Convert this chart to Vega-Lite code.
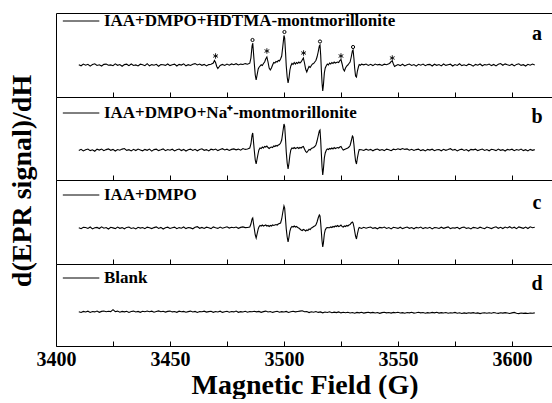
{
"$schema":"https://vega.github.io/schema/vega-lite/v6.json",
"background":"white",
"padding":{"left":8,"top":12,"right":0,"bottom":0},
"bounds":"flush",
"spacing":0,
"config":{"view":{"stroke":null},"font":"Liberation Serif","text":{"font":"Liberation Serif","color":"black"}},
"datasets":{
"a":[{"x":3410,"y":0.3},{"x":3411,"y":-0.8},{"x":3412,"y":0.9},{"x":3413,"y":-0.2},{"x":3414,"y":0.7},{"x":3415,"y":-1.1},{"x":3416,"y":0.4},{"x":3417,"y":1.2},{"x":3418,"y":-0.5},{"x":3419,"y":0.2},{"x":3420,"y":-1.0},{"x":3421,"y":0.6},{"x":3422,"y":0.9},{"x":3423,"y":-0.3},{"x":3424,"y":0.1},{"x":3425,"y":-0.7},{"x":3426,"y":1.1},{"x":3427,"y":-0.3},{"x":3428,"y":0.5},{"x":3429,"y":-1.2},{"x":3430,"y":0.4},{"x":3431,"y":0.8},{"x":3432,"y":-0.6},{"x":3433,"y":1.0},{"x":3434,"y":-0.5},{"x":3435,"y":0.1},{"x":3436,"y":-0.9},{"x":3437,"y":0.8},{"x":3438,"y":0.2},{"x":3439,"y":-0.7},{"x":3440,"y":1.3},{"x":3441,"y":-0.8},{"x":3442,"y":0.4},{"x":3443,"y":-0.2},{"x":3444,"y":0.7},{"x":3445,"y":-1.2},{"x":3446,"y":0.5},{"x":3447,"y":0.3},{"x":3448,"y":-0.4},{"x":3449,"y":1.0},{"x":3450,"y":-0.6},{"x":3451,"y":0.2},{"x":3452,"y":0.9},{"x":3453,"y":-1.0},{"x":3454,"y":0.6},{"x":3455,"y":-0.1},{"x":3456,"y":1.2},{"x":3457,"y":-0.8},{"x":3458,"y":0.3},{"x":3459,"y":-0.5},{"x":3460,"y":0.8},{"x":3461,"y":1.4},{"x":3462,"y":0.1},{"x":3463,"y":1.0},{"x":3464,"y":-0.3},{"x":3465,"y":0.6},{"x":3466,"y":-0.9},{"x":3467,"y":0.4},{"x":3468,"y":0.8},{"x":3469,"y":2},{"x":3469.5,"y":4.5},{"x":3470,"y":2.5},{"x":3470.5,"y":-1.5},{"x":3471,"y":-3.5},{"x":3471.5,"y":-2},{"x":3472,"y":-0.5},{"x":3473,"y":0.6},{"x":3474,"y":-0.4},{"x":3475,"y":0.9},{"x":3476,"y":-0.2},{"x":3477,"y":1.1},{"x":3478,"y":0.3},{"x":3479,"y":1.3},{"x":3480,"y":0.1},{"x":3481,"y":0.9},{"x":3482,"y":0.5},{"x":3483,"y":1.4},{"x":3484,"y":0.8},{"x":3485,"y":1.8},{"x":3485.5,"y":7},{"x":3486,"y":19},{"x":3486.3,"y":22},{"x":3486.6,"y":13},{"x":3487,"y":1},{"x":3487.4,"y":-10},{"x":3487.8,"y":-15},{"x":3488.2,"y":-10},{"x":3488.7,"y":-4},{"x":3489,"y":-2.5},{"x":3489.5,"y":-1},{"x":3490,"y":0.2},{"x":3490.5,"y":-0.5},{"x":3491,"y":1.5},{"x":3491.5,"y":3},{"x":3492,"y":6},{"x":3492.5,"y":8},{"x":3493,"y":3},{"x":3493.5,"y":-3},{"x":3494,"y":-5},{"x":3494.5,"y":-3},{"x":3495,"y":0},{"x":3495.5,"y":2.5},{"x":3496,"y":2},{"x":3496.5,"y":3.5},{"x":3497,"y":3},{"x":3497.5,"y":4.5},{"x":3498,"y":4},{"x":3498.5,"y":6},{"x":3499,"y":9},{"x":3499.5,"y":19},{"x":3500,"y":29.5},{"x":3500.3,"y":27},{"x":3500.7,"y":12},{"x":3501,"y":-1},{"x":3501.4,"y":-12},{"x":3501.8,"y":-18},{"x":3502.2,"y":-13},{"x":3502.6,"y":-5},{"x":3503,"y":-1},{"x":3503.5,"y":1.5},{"x":3504,"y":0.5},{"x":3504.5,"y":2.5},{"x":3505,"y":1},{"x":3505.5,"y":2.5},{"x":3506,"y":1.5},{"x":3506.5,"y":3},{"x":3507,"y":2},{"x":3507.5,"y":3},{"x":3508,"y":5},{"x":3508.5,"y":7},{"x":3509,"y":2},{"x":3509.5,"y":-4},{"x":3510,"y":-7},{"x":3510.5,"y":-4},{"x":3511,"y":-1.5},{"x":3511.5,"y":-2.5},{"x":3512,"y":-0.5},{"x":3512.5,"y":1},{"x":3513,"y":1.5},{"x":3513.5,"y":3},{"x":3514,"y":4.5},{"x":3514.5,"y":8},{"x":3515,"y":13},{"x":3515.5,"y":19},{"x":3515.8,"y":20},{"x":3516.1,"y":10},{"x":3516.4,"y":-5},{"x":3516.7,"y":-18},{"x":3517,"y":-26},{"x":3517.3,"y":-20},{"x":3517.7,"y":-8},{"x":3518.1,"y":-3},{"x":3518.6,"y":-0.5},{"x":3519,"y":1},{"x":3519.5,"y":0},{"x":3520,"y":2},{"x":3520.5,"y":1},{"x":3521,"y":2.5},{"x":3521.5,"y":1.5},{"x":3522,"y":3},{"x":3522.5,"y":2},{"x":3523,"y":2.5},{"x":3523.5,"y":3},{"x":3524,"y":2.5},{"x":3524.5,"y":4.5},{"x":3525,"y":5.5},{"x":3525.5,"y":1},{"x":3526,"y":-4},{"x":3526.5,"y":-6},{"x":3527,"y":-3},{"x":3527.5,"y":-1},{"x":3528,"y":0},{"x":3528.5,"y":1.5},{"x":3529,"y":3},{"x":3529.5,"y":8},{"x":3530,"y":14},{"x":3530.3,"y":15},{"x":3530.7,"y":6},{"x":3531,"y":-3},{"x":3531.4,"y":-11},{"x":3531.8,"y":-12},{"x":3532.2,"y":-6},{"x":3532.7,"y":-1.5},{"x":3533,"y":0.5},{"x":3533.5,"y":-0.3},{"x":3534,"y":0.9},{"x":3535,"y":0.2},{"x":3536,"y":1.0},{"x":3537,"y":-0.4},{"x":3538,"y":0.7},{"x":3539,"y":-0.6},{"x":3540,"y":0.9},{"x":3541,"y":0.1},{"x":3542,"y":0.6},{"x":3543,"y":-0.5},{"x":3544,"y":0.8},{"x":3545,"y":0.3},{"x":3546,"y":1.2},{"x":3546.5,"y":2},{"x":3547,"y":3.5},{"x":3547.5,"y":4},{"x":3548,"y":1},{"x":3548.5,"y":-1.5},{"x":3549,"y":-0.8},{"x":3550,"y":0.5},{"x":3551,"y":-0.6},{"x":3552,"y":0.8},{"x":3553,"y":-0.9},{"x":3554,"y":0.3},{"x":3555,"y":1.0},{"x":3556,"y":-0.5},{"x":3557,"y":0.4},{"x":3558,"y":-1.1},{"x":3559,"y":0.7},{"x":3560,"y":-0.2},{"x":3561,"y":0.9},{"x":3562,"y":-0.7},{"x":3563,"y":0.4},{"x":3564,"y":0.6},{"x":3565,"y":-1.0},{"x":3566,"y":0.8},{"x":3567,"y":-0.3},{"x":3568,"y":0.5},{"x":3569,"y":-0.9},{"x":3570,"y":1.0},{"x":3571,"y":-0.4},{"x":3572,"y":0.3},{"x":3573,"y":0.8},{"x":3574,"y":-1.0},{"x":3575,"y":0.5},{"x":3576,"y":-0.4},{"x":3577,"y":1.2},{"x":3578,"y":-0.6},{"x":3579,"y":0.2},{"x":3580,"y":-0.7},{"x":3581,"y":0.8},{"x":3582,"y":0.3},{"x":3583,"y":-1.1},{"x":3584,"y":0.6},{"x":3585,"y":-0.2},{"x":3586,"y":1.0},{"x":3587,"y":-0.8},{"x":3588,"y":0.4},{"x":3589,"y":0.0},{"x":3590,"y":0.9},{"x":3591,"y":-0.6},{"x":3592,"y":0.5},{"x":3593,"y":-0.9},{"x":3594,"y":0.7},{"x":3595,"y":1.5},{"x":3596,"y":-0.3},{"x":3597,"y":1.1},{"x":3598,"y":0.2},{"x":3599,"y":-0.5},{"x":3600,"y":0.8},{"x":3601,"y":-0.9},{"x":3602,"y":0.6},{"x":3603,"y":1.2},{"x":3604,"y":-0.4},{"x":3605,"y":0.3},{"x":3606,"y":-1.0},{"x":3607,"y":0.7},{"x":3608,"y":-0.2},{"x":3609,"y":0.9},{"x":3610,"y":0.1}],
"b":[{"x":3410,"y":-0.4},{"x":3411,"y":0.7},{"x":3412,"y":-0.9},{"x":3413,"y":0.3},{"x":3414,"y":1.0},{"x":3415,"y":-0.6},{"x":3416,"y":0.2},{"x":3417,"y":-1.2},{"x":3418,"y":0.8},{"x":3419,"y":-0.1},{"x":3420,"y":0.9},{"x":3421,"y":-0.7},{"x":3422,"y":0.4},{"x":3423,"y":1.1},{"x":3424,"y":-0.3},{"x":3425,"y":0.6},{"x":3426,"y":-1.0},{"x":3427,"y":0.5},{"x":3428,"y":-0.2},{"x":3429,"y":0.9},{"x":3430,"y":1.5},{"x":3431,"y":-0.4},{"x":3432,"y":0.3},{"x":3433,"y":-0.9},{"x":3434,"y":0.7},{"x":3435,"y":-0.5},{"x":3436,"y":1.0},{"x":3437,"y":0.1},{"x":3438,"y":-0.8},{"x":3439,"y":0.6},{"x":3440,"y":-0.3},{"x":3441,"y":0.9},{"x":3442,"y":-1.1},{"x":3443,"y":0.4},{"x":3444,"y":0.8},{"x":3445,"y":-0.6},{"x":3446,"y":0.2},{"x":3447,"y":1.1},{"x":3448,"y":-0.7},{"x":3449,"y":0.5},{"x":3450,"y":-0.2},{"x":3451,"y":0.8},{"x":3452,"y":-0.9},{"x":3453,"y":0.3},{"x":3454,"y":1.0},{"x":3455,"y":-0.5},{"x":3456,"y":0.6},{"x":3457,"y":-1.0},{"x":3458,"y":0.2},{"x":3459,"y":0.9},{"x":3460,"y":-0.4},{"x":3461,"y":0.7},{"x":3462,"y":-0.8},{"x":3463,"y":0.5},{"x":3464,"y":1.2},{"x":3465,"y":-0.3},{"x":3466,"y":0.4},{"x":3467,"y":-0.9},{"x":3468,"y":0.8},{"x":3469,"y":0.1},{"x":3470,"y":1.0},{"x":3471,"y":-0.6},{"x":3472,"y":0.5},{"x":3473,"y":1.3},{"x":3474,"y":0.0},{"x":3475,"y":0.8},{"x":3476,"y":-0.4},{"x":3477,"y":0.6},{"x":3478,"y":1.1},{"x":3479,"y":0.2},{"x":3480,"y":0.9},{"x":3481,"y":-0.2},{"x":3482,"y":1.4},{"x":3483,"y":0.6},{"x":3484,"y":1},{"x":3485,"y":2},{"x":3485.5,"y":6},{"x":3486,"y":15},{"x":3486.3,"y":17},{"x":3486.6,"y":9},{"x":3487,"y":-1},{"x":3487.4,"y":-10},{"x":3487.8,"y":-14},{"x":3488.2,"y":-9},{"x":3488.7,"y":-3},{"x":3489,"y":0},{"x":3489.5,"y":2},{"x":3490,"y":1.5},{"x":3490.5,"y":3},{"x":3491,"y":2},{"x":3491.5,"y":3.5},{"x":3492,"y":3},{"x":3492.5,"y":4},{"x":3493,"y":2.5},{"x":3493.5,"y":1.5},{"x":3494,"y":2.5},{"x":3494.5,"y":3},{"x":3495,"y":2.5},{"x":3495.5,"y":4},{"x":3496,"y":3.5},{"x":3496.5,"y":4.5},{"x":3497,"y":4},{"x":3497.5,"y":5},{"x":3498,"y":5.5},{"x":3498.5,"y":7},{"x":3499,"y":10},{"x":3499.5,"y":18},{"x":3500,"y":26},{"x":3500.3,"y":24},{"x":3500.7,"y":10},{"x":3501,"y":-2},{"x":3501.4,"y":-13},{"x":3501.8,"y":-19},{"x":3502.2,"y":-13},{"x":3502.6,"y":-5},{"x":3503,"y":0},{"x":3503.5,"y":2},{"x":3504,"y":1.5},{"x":3504.5,"y":2.5},{"x":3505,"y":1.5},{"x":3505.5,"y":2},{"x":3506,"y":2.5},{"x":3506.5,"y":1.5},{"x":3507,"y":2.5},{"x":3507.5,"y":2},{"x":3508,"y":3},{"x":3508.5,"y":3.5},{"x":3509,"y":1},{"x":3509.5,"y":-1.5},{"x":3510,"y":-2.5},{"x":3510.5,"y":-1},{"x":3511,"y":0.5},{"x":3511.5,"y":0},{"x":3512,"y":1.5},{"x":3512.5,"y":2},{"x":3513,"y":2.5},{"x":3513.5,"y":3.5},{"x":3514,"y":5},{"x":3514.5,"y":9},{"x":3515,"y":14},{"x":3515.5,"y":19},{"x":3515.8,"y":20},{"x":3516.1,"y":10},{"x":3516.4,"y":-4},{"x":3516.7,"y":-17},{"x":3517,"y":-25},{"x":3517.3,"y":-19},{"x":3517.7,"y":-8},{"x":3518.1,"y":-3},{"x":3518.6,"y":0},{"x":3519,"y":1},{"x":3519.5,"y":0.5},{"x":3520,"y":1.5},{"x":3520.5,"y":1},{"x":3521,"y":2},{"x":3521.5,"y":1},{"x":3522,"y":2.5},{"x":3522.5,"y":1.5},{"x":3523,"y":2},{"x":3523.5,"y":2.5},{"x":3524,"y":2},{"x":3524.5,"y":3},{"x":3525,"y":3.5},{"x":3525.5,"y":1.5},{"x":3526,"y":0},{"x":3526.5,"y":0.5},{"x":3527,"y":1},{"x":3527.5,"y":1.5},{"x":3528,"y":2},{"x":3528.5,"y":3},{"x":3529,"y":4.5},{"x":3529.5,"y":9},{"x":3530,"y":14},{"x":3530.3,"y":13},{"x":3530.7,"y":5},{"x":3531,"y":-3},{"x":3531.4,"y":-11},{"x":3531.8,"y":-14},{"x":3532.2,"y":-8},{"x":3532.7,"y":-2},{"x":3533,"y":0.5},{"x":3534,"y":0.3},{"x":3535,"y":-0.5},{"x":3536,"y":0.8},{"x":3537,"y":-0.2},{"x":3538,"y":0.6},{"x":3539,"y":-0.8},{"x":3540,"y":0.4},{"x":3541,"y":1.0},{"x":3542,"y":-0.3},{"x":3543,"y":0.5},{"x":3544,"y":-0.6},{"x":3545,"y":0.9},{"x":3546,"y":0.2},{"x":3547,"y":-0.7},{"x":3548,"y":0.8},{"x":3549,"y":0.3},{"x":3550,"y":1.2},{"x":3551,"y":0.4},{"x":3552,"y":1.5},{"x":3553,"y":0.6},{"x":3554,"y":1.1},{"x":3555,"y":-0.2},{"x":3556,"y":0.7},{"x":3557,"y":-0.5},{"x":3558,"y":0.4},{"x":3559,"y":0.9},{"x":3560,"y":-0.6},{"x":3561,"y":0.3},{"x":3562,"y":-0.9},{"x":3563,"y":0.6},{"x":3564,"y":-0.1},{"x":3565,"y":0.8},{"x":3566,"y":-0.7},{"x":3567,"y":0.2},{"x":3568,"y":0.5},{"x":3569,"y":-0.8},{"x":3570,"y":0.7},{"x":3571,"y":-0.3},{"x":3572,"y":0.4},{"x":3573,"y":1.3},{"x":3574,"y":-0.2},{"x":3575,"y":0.6},{"x":3576,"y":-0.9},{"x":3577,"y":0.3},{"x":3578,"y":0.9},{"x":3579,"y":-0.5},{"x":3580,"y":0.4},{"x":3581,"y":-1.0},{"x":3582,"y":0.6},{"x":3583,"y":0.1},{"x":3584,"y":0.8},{"x":3585,"y":-0.6},{"x":3586,"y":0.3},{"x":3587,"y":1.0},{"x":3588,"y":-0.4},{"x":3589,"y":0.5},{"x":3590,"y":-0.8},{"x":3591,"y":0.7},{"x":3592,"y":0.2},{"x":3593,"y":-0.6},{"x":3594,"y":0.9},{"x":3595,"y":-0.3},{"x":3596,"y":0.4},{"x":3597,"y":-1.0},{"x":3598,"y":0.6},{"x":3599,"y":0.0},{"x":3600,"y":0.8},{"x":3601,"y":-0.7},{"x":3602,"y":0.5},{"x":3603,"y":-0.2},{"x":3604,"y":0.9},{"x":3605,"y":-0.6},{"x":3606,"y":0.3},{"x":3607,"y":-0.9},{"x":3608,"y":0.6},{"x":3609,"y":-0.3},{"x":3610,"y":0.4}],
"c":[{"x":3410,"y":0.2},{"x":3411,"y":-0.7},{"x":3412,"y":0.8},{"x":3413,"y":0.5},{"x":3414,"y":-0.4},{"x":3415,"y":1.0},{"x":3416,"y":-0.9},{"x":3417,"y":0.3},{"x":3418,"y":0.6},{"x":3419,"y":-0.5},{"x":3420,"y":1.2},{"x":3421,"y":-0.2},{"x":3422,"y":0.5},{"x":3423,"y":-1.0},{"x":3424,"y":0.7},{"x":3425,"y":0.1},{"x":3426,"y":-0.6},{"x":3427,"y":0.9},{"x":3428,"y":-0.3},{"x":3429,"y":0.4},{"x":3430,"y":-0.8},{"x":3431,"y":0.6},{"x":3432,"y":1.0},{"x":3433,"y":-0.5},{"x":3434,"y":0.2},{"x":3435,"y":-0.9},{"x":3436,"y":0.7},{"x":3437,"y":-0.1},{"x":3438,"y":0.5},{"x":3439,"y":-0.7},{"x":3440,"y":0.9},{"x":3441,"y":0.3},{"x":3442,"y":-0.6},{"x":3443,"y":0.4},{"x":3444,"y":1.1},{"x":3445,"y":-0.4},{"x":3446,"y":0.6},{"x":3447,"y":-1.0},{"x":3448,"y":0.3},{"x":3449,"y":0.8},{"x":3450,"y":-0.5},{"x":3451,"y":0.2},{"x":3452,"y":0.9},{"x":3453,"y":-0.7},{"x":3454,"y":0.4},{"x":3455,"y":-0.2},{"x":3456,"y":1.0},{"x":3457,"y":-0.6},{"x":3458,"y":0.5},{"x":3459,"y":0.1},{"x":3460,"y":-0.8},{"x":3461,"y":0.7},{"x":3462,"y":1.4},{"x":3463,"y":-0.3},{"x":3464,"y":0.6},{"x":3465,"y":-0.5},{"x":3466,"y":0.8},{"x":3467,"y":0.2},{"x":3468,"y":-0.6},{"x":3469,"y":1.1},{"x":3470,"y":0.3},{"x":3471,"y":-0.4},{"x":3472,"y":0.9},{"x":3473,"y":-0.2},{"x":3474,"y":0.5},{"x":3475,"y":1.2},{"x":3476,"y":-0.1},{"x":3477,"y":0.7},{"x":3478,"y":0.2},{"x":3479,"y":1.0},{"x":3480,"y":-0.3},{"x":3481,"y":0.6},{"x":3482,"y":1.1},{"x":3483,"y":0.4},{"x":3484,"y":0.5},{"x":3485,"y":1},{"x":3485.5,"y":4},{"x":3486,"y":9},{"x":3486.3,"y":10},{"x":3486.6,"y":5},{"x":3487,"y":-1},{"x":3487.4,"y":-7},{"x":3487.8,"y":-10},{"x":3488.2,"y":-6},{"x":3488.7,"y":-1},{"x":3489,"y":1},{"x":3489.5,"y":2.5},{"x":3490,"y":2},{"x":3490.5,"y":3},{"x":3491,"y":2},{"x":3491.5,"y":2.5},{"x":3492,"y":3},{"x":3492.5,"y":2},{"x":3493,"y":2.5},{"x":3493.5,"y":1.5},{"x":3494,"y":2.5},{"x":3494.5,"y":2},{"x":3495,"y":3},{"x":3495.5,"y":2.5},{"x":3496,"y":3},{"x":3496.5,"y":3.5},{"x":3497,"y":3},{"x":3497.5,"y":4},{"x":3498,"y":4.5},{"x":3498.5,"y":5},{"x":3499,"y":9},{"x":3499.5,"y":16},{"x":3500,"y":22},{"x":3500.3,"y":20},{"x":3500.7,"y":8},{"x":3501,"y":-1},{"x":3501.4,"y":-9},{"x":3501.8,"y":-14},{"x":3502.2,"y":-9},{"x":3502.6,"y":-3},{"x":3503,"y":0},{"x":3503.5,"y":1.5},{"x":3504,"y":1},{"x":3504.5,"y":2},{"x":3505,"y":1},{"x":3505.5,"y":1.5},{"x":3506,"y":0.5},{"x":3506.5,"y":0},{"x":3507,"y":-1},{"x":3507.5,"y":-2},{"x":3508,"y":-2.5},{"x":3508.5,"y":-1.5},{"x":3509,"y":-2},{"x":3509.5,"y":-3},{"x":3510,"y":-2},{"x":3510.5,"y":-2.5},{"x":3511,"y":-1},{"x":3511.5,"y":-1.5},{"x":3512,"y":0},{"x":3512.5,"y":0.5},{"x":3513,"y":1.5},{"x":3513.5,"y":2},{"x":3514,"y":3},{"x":3514.5,"y":6},{"x":3515,"y":10},{"x":3515.5,"y":13},{"x":3515.8,"y":12},{"x":3516.1,"y":5},{"x":3516.4,"y":-4},{"x":3516.7,"y":-13},{"x":3517,"y":-19},{"x":3517.3,"y":-15},{"x":3517.7,"y":-6},{"x":3518.1,"y":-2},{"x":3518.6,"y":0},{"x":3519,"y":0.5},{"x":3520,"y":0.2},{"x":3520.5,"y":1},{"x":3521,"y":0.5},{"x":3521.5,"y":1.5},{"x":3522,"y":1},{"x":3522.5,"y":2},{"x":3523,"y":1.5},{"x":3523.5,"y":2.5},{"x":3524,"y":1.5},{"x":3524.5,"y":2},{"x":3525,"y":3},{"x":3525.5,"y":1.5},{"x":3526,"y":1},{"x":3526.5,"y":2},{"x":3527,"y":1.5},{"x":3527.5,"y":2.5},{"x":3528,"y":2},{"x":3528.5,"y":3},{"x":3529,"y":3.5},{"x":3529.5,"y":5},{"x":3530,"y":6},{"x":3530.3,"y":5},{"x":3530.7,"y":1},{"x":3531,"y":-3},{"x":3531.4,"y":-8},{"x":3531.8,"y":-11},{"x":3532.2,"y":-6},{"x":3532.7,"y":-1},{"x":3533,"y":0.5},{"x":3534,"y":-0.5},{"x":3535,"y":0.7},{"x":3536,"y":-0.2},{"x":3537,"y":0.5},{"x":3538,"y":1.0},{"x":3539,"y":-0.4},{"x":3540,"y":0.3},{"x":3541,"y":-0.8},{"x":3542,"y":0.6},{"x":3543,"y":0.1},{"x":3544,"y":0.9},{"x":3545,"y":-0.5},{"x":3546,"y":0.4},{"x":3547,"y":-0.9},{"x":3548,"y":0.7},{"x":3549,"y":0.2},{"x":3550,"y":-0.4},{"x":3551,"y":0.8},{"x":3552,"y":-0.6},{"x":3553,"y":0.3},{"x":3554,"y":1.0},{"x":3555,"y":-0.3},{"x":3556,"y":0.5},{"x":3557,"y":-0.8},{"x":3558,"y":0.6},{"x":3559,"y":0.0},{"x":3560,"y":0.9},{"x":3561,"y":-0.6},{"x":3562,"y":0.4},{"x":3563,"y":-0.2},{"x":3564,"y":0.7},{"x":3565,"y":-0.9},{"x":3566,"y":0.5},{"x":3567,"y":0.2},{"x":3568,"y":-0.5},{"x":3569,"y":0.8},{"x":3570,"y":-0.3},{"x":3571,"y":0.4},{"x":3572,"y":1.1},{"x":3573,"y":-0.6},{"x":3574,"y":0.3},{"x":3575,"y":-0.1},{"x":3576,"y":0.7},{"x":3577,"y":-0.8},{"x":3578,"y":0.5},{"x":3579,"y":0.9},{"x":3580,"y":-0.4},{"x":3581,"y":0.2},{"x":3582,"y":-0.9},{"x":3583,"y":0.6},{"x":3584,"y":0.3},{"x":3585,"y":-0.5},{"x":3586,"y":0.8},{"x":3587,"y":0.0},{"x":3588,"y":-0.7},{"x":3589,"y":1.0},{"x":3590,"y":0.2},{"x":3591,"y":-0.6},{"x":3592,"y":0.5},{"x":3593,"y":1.2},{"x":3594,"y":-0.3},{"x":3595,"y":0.7},{"x":3596,"y":-0.5},{"x":3597,"y":0.9},{"x":3598,"y":0.1},{"x":3599,"y":1.3},{"x":3600,"y":-0.2},{"x":3601,"y":0.8},{"x":3602,"y":-0.6},{"x":3603,"y":1.1},{"x":3604,"y":0.4},{"x":3605,"y":-0.3},{"x":3606,"y":0.9},{"x":3607,"y":-0.5},{"x":3608,"y":1.2},{"x":3609,"y":0.3},{"x":3610,"y":0.7}],
"d":[{"x":3410,"y":0.2},{"x":3411,"y":-0.5},{"x":3412,"y":0.6},{"x":3413,"y":0.0},{"x":3414,"y":0.8},{"x":3415,"y":-0.4},{"x":3416,"y":0.5},{"x":3417,"y":0.1},{"x":3418,"y":0.9},{"x":3419,"y":-0.3},{"x":3420,"y":0.6},{"x":3421,"y":1.0},{"x":3422,"y":0.2},{"x":3423,"y":0.8},{"x":3424,"y":0.4},{"x":3425,"y":2.3},{"x":3426,"y":0.3},{"x":3427,"y":0.9},{"x":3428,"y":-0.2},{"x":3429,"y":0.6},{"x":3430,"y":0.1},{"x":3431,"y":0.7},{"x":3432,"y":-0.4},{"x":3433,"y":0.5},{"x":3434,"y":0.9},{"x":3435,"y":0.0},{"x":3436,"y":0.6},{"x":3437,"y":-0.3},{"x":3438,"y":0.7},{"x":3439,"y":0.2},{"x":3440,"y":1.0},{"x":3441,"y":0.3},{"x":3442,"y":0.8},{"x":3443,"y":-0.2},{"x":3444,"y":0.5},{"x":3445,"y":1.1},{"x":3446,"y":0.2},{"x":3447,"y":0.7},{"x":3448,"y":-0.1},{"x":3449,"y":0.6},{"x":3450,"y":0.9},{"x":3451,"y":0.1},{"x":3452,"y":0.5},{"x":3453,"y":-0.3},{"x":3454,"y":0.8},{"x":3455,"y":0.2},{"x":3456,"y":0.6},{"x":3457,"y":-0.2},{"x":3458,"y":0.4},{"x":3459,"y":0.9},{"x":3460,"y":0.0},{"x":3461,"y":0.6},{"x":3462,"y":-0.4},{"x":3463,"y":0.5},{"x":3464,"y":0.2},{"x":3465,"y":0.8},{"x":3466,"y":-0.1},{"x":3467,"y":0.4},{"x":3468,"y":0.7},{"x":3469,"y":-0.3},{"x":3470,"y":0.5},{"x":3471,"y":0.0},{"x":3472,"y":0.8},{"x":3473,"y":-0.4},{"x":3474,"y":0.3},{"x":3475,"y":0.7},{"x":3476,"y":-0.2},{"x":3477,"y":0.5},{"x":3478,"y":0.1},{"x":3479,"y":0.9},{"x":3480,"y":-0.3},{"x":3481,"y":0.4},{"x":3482,"y":0.0},{"x":3483,"y":0.7},{"x":3484,"y":-0.2},{"x":3485,"y":0.5},{"x":3486,"y":0.2},{"x":3487,"y":0.8},{"x":3488,"y":0.1},{"x":3489,"y":0.6},{"x":3490,"y":-0.3},{"x":3491,"y":0.4},{"x":3492,"y":0.9},{"x":3493,"y":0.0},{"x":3494,"y":0.5},{"x":3495,"y":-0.4},{"x":3496,"y":0.3},{"x":3497,"y":0.7},{"x":3498,"y":-0.2},{"x":3499,"y":0.4},{"x":3500,"y":0.0},{"x":3501,"y":0.6},{"x":3502,"y":-0.5},{"x":3503,"y":0.2},{"x":3504,"y":0.8},{"x":3505,"y":0.1},{"x":3506,"y":0.5},{"x":3507,"y":0.9},{"x":3508,"y":1.3},{"x":3509,"y":0.2},{"x":3510,"y":0.4},{"x":3511,"y":-0.6},{"x":3512,"y":0.3},{"x":3513,"y":-0.2},{"x":3514,"y":0.5},{"x":3515,"y":-0.4},{"x":3516,"y":0.1},{"x":3517,"y":-0.8},{"x":3518,"y":0.0},{"x":3519,"y":-0.5},{"x":3520,"y":0.2},{"x":3521,"y":-0.7},{"x":3522,"y":-0.1},{"x":3523,"y":-0.6},{"x":3524,"y":0.1},{"x":3525,"y":-0.9},{"x":3526,"y":-0.3},{"x":3527,"y":-0.7},{"x":3528,"y":-0.2},{"x":3529,"y":-1.0},{"x":3530,"y":-0.5},{"x":3531,"y":-1.2},{"x":3532,"y":-0.4},{"x":3533,"y":-0.9},{"x":3534,"y":-0.3},{"x":3535,"y":-1.1},{"x":3536,"y":-0.6},{"x":3537,"y":-0.2},{"x":3538,"y":-0.9},{"x":3539,"y":-0.4},{"x":3540,"y":-1.0},{"x":3541,"y":-0.5},{"x":3542,"y":-1.3},{"x":3543,"y":-0.6},{"x":3544,"y":-0.2},{"x":3545,"y":-0.9},{"x":3546,"y":-0.5},{"x":3547,"y":-1.1},{"x":3548,"y":-0.4},{"x":3549,"y":-0.8},{"x":3550,"y":-0.3},{"x":3551,"y":-1.0},{"x":3552,"y":-0.6},{"x":3553,"y":-1.2},{"x":3554,"y":-0.5},{"x":3555,"y":-0.9},{"x":3556,"y":-0.3},{"x":3557,"y":-1.1},{"x":3558,"y":-0.7},{"x":3559,"y":-0.2},{"x":3560,"y":-0.9},{"x":3561,"y":-0.5},{"x":3562,"y":-1.2},{"x":3563,"y":-0.6},{"x":3564,"y":-1.0},{"x":3565,"y":-0.4},{"x":3566,"y":-0.9},{"x":3567,"y":-0.3},{"x":3568,"y":-1.1},{"x":3569,"y":-0.6},{"x":3570,"y":-1.0},{"x":3571,"y":-0.5},{"x":3572,"y":-1.3},{"x":3573,"y":-0.7},{"x":3574,"y":-1.0},{"x":3575,"y":-0.4},{"x":3576,"y":-1.2},{"x":3577,"y":-0.8},{"x":3578,"y":-1.5},{"x":3579,"y":-0.9},{"x":3580,"y":-1.4},{"x":3581,"y":-0.7},{"x":3582,"y":-1.1},{"x":3583,"y":-0.6},{"x":3584,"y":-1.3},{"x":3585,"y":-0.9},{"x":3586,"y":-1.6},{"x":3587,"y":-1.0},{"x":3588,"y":-0.7},{"x":3589,"y":-1.3},{"x":3590,"y":-0.8},{"x":3591,"y":-1.2},{"x":3592,"y":-0.5},{"x":3593,"y":-1.0},{"x":3594,"y":-1.4},{"x":3595,"y":-0.7},{"x":3596,"y":-1.1},{"x":3597,"y":-0.6},{"x":3598,"y":-1.0},{"x":3599,"y":-1.5},{"x":3600,"y":-0.9},{"x":3601,"y":-0.4},{"x":3602,"y":-1.2},{"x":3603,"y":-1.6},{"x":3604,"y":-1.0},{"x":3605,"y":-1.4},{"x":3606,"y":-1.1},{"x":3607,"y":-1.5},{"x":3608,"y":-1.0},{"x":3609,"y":-1.3},{"x":3610,"y":-0.9}],
"legend":[{"p":"a","x":3403,"x2":3419,"tx":3421,"y":44,"t":"IAA+DMPO+HDTMA-montmorillonite"},{"p":"b","x":3403,"x2":3419,"tx":3421,"y":37,"t":"IAA+DMPO+Na⁺-montmorillonite"},{"p":"c","x":3403,"x2":3419,"tx":3421,"y":33,"t":"IAA+DMPO"},{"p":"d","x":3403,"x2":3419,"tx":3421,"y":34,"t":"Blank"}],
"letters":[{"p":"a","x":3611,"y":25,"t":"a"},{"p":"b","x":3611,"y":27,"t":"b"},{"p":"c","x":3611,"y":19,"t":"c"},{"p":"d","x":3611,"y":22,"t":"d"}],
"stars":[{"x":3470,"y":9},{"x":3492.5,"y":14},{"x":3508.6,"y":12},{"x":3525,"y":9},{"x":3547.5,"y":7}],
"circles":[{"x":3486.2,"y":25},{"x":3500.2,"y":33},{"x":3515.8,"y":23.5},{"x":3530.3,"y":18}],
"ytitle":[{"x":3385.5,"y":47,"t":"d(EPR signal)/dH"}]
},
"vconcat":[
{"width":497,"height":84,
 "resolve":{"axis":{"x":"independent","y":"independent"}},
 "layer":[
  {"data":{"name":"a"},"mark":{"type":"line","color":"black","strokeWidth":1.1},
   "encoding":{"x":{"field":"x","type":"quantitative","scale":{"domain":[3400,3618],"nice":false,"zero":false},"axis":{"orient":"bottom","values":[3400,3425,3450,3475,3500,3525,3550,3575,3600],"domain":true,"domainColor":"black","ticks":true,"tickSize":-5,"tickColor":"black","labels":false,"grid":false,"title":null}},
    "y":{"field":"y","type":"quantitative","scale":{"domain":[-32,52],"nice":false,"zero":false},"axis":{"orient":"left","domain":true,"domainColor":"black","ticks":false,"labels":false,"grid":false,"title":null}}}},
  {"data":{"name":"legend"},"transform":[{"filter":"datum.p == 'a'"}],"mark":{"type":"rule","color":"black","strokeWidth":1},
   "encoding":{"x":{"field":"x","type":"quantitative","scale":{"domain":[3400,3618],"nice":false,"zero":false},"axis":{"orient":"top","domain":true,"domainColor":"black","ticks":false,"labels":false,"grid":false,"title":null}},"x2":{"field":"x2"},
    "y":{"field":"y","type":"quantitative","scale":{"domain":[-32,52],"nice":false,"zero":false},"axis":null}}},
  {"data":{"name":"legend"},"transform":[{"filter":"datum.p == 'a'"}],"mark":{"type":"text","align":"left","baseline":"middle","fontSize":17,"fontWeight":"bold","color":"black"},
   "encoding":{"x":{"field":"tx","type":"quantitative","scale":{"domain":[3400,3618],"nice":false,"zero":false},"axis":null},
    "y":{"field":"y","type":"quantitative","scale":{"domain":[-32,52],"nice":false,"zero":false},"axis":null},"text":{"field":"t"}}},
  {"data":{"name":"letters"},"transform":[{"filter":"datum.p == 'a'"}],"mark":{"type":"text","align":"center","baseline":"alphabetic","fontSize":20,"fontWeight":"bold","color":"black"},
   "encoding":{"x":{"field":"x","type":"quantitative","scale":{"domain":[3400,3618],"nice":false,"zero":false},"axis":null},
    "y":{"field":"y","type":"quantitative","scale":{"domain":[-32,52],"nice":false,"zero":false},"axis":null},"text":{"field":"t"}}},
  {"data":{"name":"stars"},"mark":{"type":"point","shape":"M0,-1L0,1M-0.87,-0.5L0.87,0.5M-0.87,0.5L0.87,-0.5","filled":false,"size":30,"strokeWidth":0.9,"color":"black","opacity":1},
   "encoding":{"x":{"field":"x","type":"quantitative","scale":{"domain":[3400,3618],"nice":false,"zero":false},"axis":null},
    "y":{"field":"y","type":"quantitative","scale":{"domain":[-32,52],"nice":false,"zero":false},"axis":null}}},
  {"data":{"name":"circles"},"mark":{"type":"point","shape":"circle","filled":false,"size":10,"strokeWidth":1,"color":"black","opacity":1},
   "encoding":{"x":{"field":"x","type":"quantitative","scale":{"domain":[3400,3618],"nice":false,"zero":false},"axis":null},
    "y":{"field":"y","type":"quantitative","scale":{"domain":[-32,52],"nice":false,"zero":false},"axis":null}}}
 ]},
{"width":497,"height":83,
 "resolve":{"axis":{"x":"independent","y":"independent"}},
 "layer":[
  {"data":{"name":"b"},"mark":{"type":"line","color":"black","strokeWidth":1.1},
   "encoding":{"x":{"field":"x","type":"quantitative","scale":{"domain":[3400,3618],"nice":false,"zero":false},"axis":{"orient":"bottom","values":[3400,3425,3450,3475,3500,3525,3550,3575,3600],"domain":true,"domainColor":"black","ticks":true,"tickSize":-5,"tickColor":"black","labels":false,"grid":false,"title":null}},
    "y":{"field":"y","type":"quantitative","scale":{"domain":[-30,53],"nice":false,"zero":false},"axis":{"orient":"left","domain":true,"domainColor":"black","ticks":false,"labels":false,"grid":false,"title":null}}}},
  {"data":{"name":"legend"},"transform":[{"filter":"datum.p == 'b'"}],"mark":{"type":"rule","color":"black","strokeWidth":1},
   "encoding":{"x":{"field":"x","type":"quantitative","scale":{"domain":[3400,3618],"nice":false,"zero":false},"axis":null},"x2":{"field":"x2"},
    "y":{"field":"y","type":"quantitative","scale":{"domain":[-30,53],"nice":false,"zero":false},"axis":null}}},
  {"data":{"name":"legend"},"transform":[{"filter":"datum.p == 'b'"}],"mark":{"type":"text","align":"left","baseline":"middle","fontSize":17,"fontWeight":"bold","color":"black"},
   "encoding":{"x":{"field":"tx","type":"quantitative","scale":{"domain":[3400,3618],"nice":false,"zero":false},"axis":null},
    "y":{"field":"y","type":"quantitative","scale":{"domain":[-30,53],"nice":false,"zero":false},"axis":null},"text":{"field":"t"}}},
  {"data":{"name":"letters"},"transform":[{"filter":"datum.p == 'b'"}],"mark":{"type":"text","align":"center","baseline":"alphabetic","fontSize":20,"fontWeight":"bold","color":"black"},
   "encoding":{"x":{"field":"x","type":"quantitative","scale":{"domain":[3400,3618],"nice":false,"zero":false},"axis":null},
    "y":{"field":"y","type":"quantitative","scale":{"domain":[-30,53],"nice":false,"zero":false},"axis":null},"text":{"field":"t"}}}
 ]},
{"width":497,"height":84,
 "resolve":{"axis":{"x":"independent","y":"independent"}},
 "layer":[
  {"data":{"name":"c"},"mark":{"type":"line","color":"black","strokeWidth":1.1},
   "encoding":{"x":{"field":"x","type":"quantitative","scale":{"domain":[3400,3618],"nice":false,"zero":false},"axis":{"orient":"bottom","values":[3400,3425,3450,3475,3500,3525,3550,3575,3600],"domain":true,"domainColor":"black","ticks":true,"tickSize":-5,"tickColor":"black","labels":false,"grid":false,"title":null}},
    "y":{"field":"y","type":"quantitative","scale":{"domain":[-36,48],"nice":false,"zero":false},"axis":{"orient":"left","domain":true,"domainColor":"black","ticks":false,"labels":false,"grid":false,"title":null}}}},
  {"data":{"name":"legend"},"transform":[{"filter":"datum.p == 'c'"}],"mark":{"type":"rule","color":"black","strokeWidth":1},
   "encoding":{"x":{"field":"x","type":"quantitative","scale":{"domain":[3400,3618],"nice":false,"zero":false},"axis":null},"x2":{"field":"x2"},
    "y":{"field":"y","type":"quantitative","scale":{"domain":[-36,48],"nice":false,"zero":false},"axis":null}}},
  {"data":{"name":"legend"},"transform":[{"filter":"datum.p == 'c'"}],"mark":{"type":"text","align":"left","baseline":"middle","fontSize":17,"fontWeight":"bold","color":"black"},
   "encoding":{"x":{"field":"tx","type":"quantitative","scale":{"domain":[3400,3618],"nice":false,"zero":false},"axis":null},
    "y":{"field":"y","type":"quantitative","scale":{"domain":[-36,48],"nice":false,"zero":false},"axis":null},"text":{"field":"t"}}},
  {"data":{"name":"letters"},"transform":[{"filter":"datum.p == 'c'"}],"mark":{"type":"text","align":"center","baseline":"alphabetic","fontSize":20,"fontWeight":"bold","color":"black"},
   "encoding":{"x":{"field":"x","type":"quantitative","scale":{"domain":[3400,3618],"nice":false,"zero":false},"axis":null},
    "y":{"field":"y","type":"quantitative","scale":{"domain":[-36,48],"nice":false,"zero":false},"axis":null},"text":{"field":"t"}}},
  {"data":{"name":"ytitle"},"mark":{"type":"text","align":"center","baseline":"middle","angle":270,"fontSize":28,"fontWeight":"bold","color":"black"},
   "encoding":{"x":{"field":"x","type":"quantitative","scale":{"domain":[3400,3618],"nice":false,"zero":false},"axis":null},
    "y":{"field":"y","type":"quantitative","scale":{"domain":[-36,48],"nice":false,"zero":false},"axis":null},"text":{"field":"t"}}}
 ]},
{"width":497,"height":82,
 "resolve":{"axis":{"x":"independent","y":"independent"}},
 "layer":[
  {"data":{"name":"d"},"mark":{"type":"line","color":"black","strokeWidth":1.1},
   "encoding":{"x":{"field":"x","type":"quantitative","scale":{"domain":[3400,3618],"nice":false,"zero":false},"axis":{"orient":"bottom","values":[3400,3425,3450,3475,3500,3525,3550,3575,3600],"domain":true,"domainColor":"black","ticks":true,"tickSize":-5,"tickColor":"black","labels":true,"labelExpr":"datum.value % 50 == 0 ? datum.label : ''","format":"d","labelFont":"Liberation Serif","labelFontSize":20,"labelFontWeight":"bold","labelColor":"black","labelPadding":8,"labelFlush":false,"labelOverlap":false,"grid":false,"title":"Magnetic Field (G)","titleFont":"Liberation Serif","titleFontSize":28,"titleFontWeight":"bold","titleColor":"black","titlePadding":2}},
    "y":{"field":"y","type":"quantitative","scale":{"domain":[-34,48],"nice":false,"zero":false},"axis":{"orient":"left","domain":true,"domainColor":"black","ticks":false,"labels":false,"grid":false,"title":null}}}},
  {"data":{"name":"legend"},"transform":[{"filter":"datum.p == 'd'"}],"mark":{"type":"rule","color":"black","strokeWidth":1},
   "encoding":{"x":{"field":"x","type":"quantitative","scale":{"domain":[3400,3618],"nice":false,"zero":false},"axis":null},"x2":{"field":"x2"},
    "y":{"field":"y","type":"quantitative","scale":{"domain":[-34,48],"nice":false,"zero":false},"axis":null}}},
  {"data":{"name":"legend"},"transform":[{"filter":"datum.p == 'd'"}],"mark":{"type":"text","align":"left","baseline":"middle","fontSize":17,"fontWeight":"bold","color":"black"},
   "encoding":{"x":{"field":"tx","type":"quantitative","scale":{"domain":[3400,3618],"nice":false,"zero":false},"axis":null},
    "y":{"field":"y","type":"quantitative","scale":{"domain":[-34,48],"nice":false,"zero":false},"axis":null},"text":{"field":"t"}}},
  {"data":{"name":"letters"},"transform":[{"filter":"datum.p == 'd'"}],"mark":{"type":"text","align":"center","baseline":"alphabetic","fontSize":20,"fontWeight":"bold","color":"black"},
   "encoding":{"x":{"field":"x","type":"quantitative","scale":{"domain":[3400,3618],"nice":false,"zero":false},"axis":null},
    "y":{"field":"y","type":"quantitative","scale":{"domain":[-34,48],"nice":false,"zero":false},"axis":null},"text":{"field":"t"}}}
 ]}
]
}
